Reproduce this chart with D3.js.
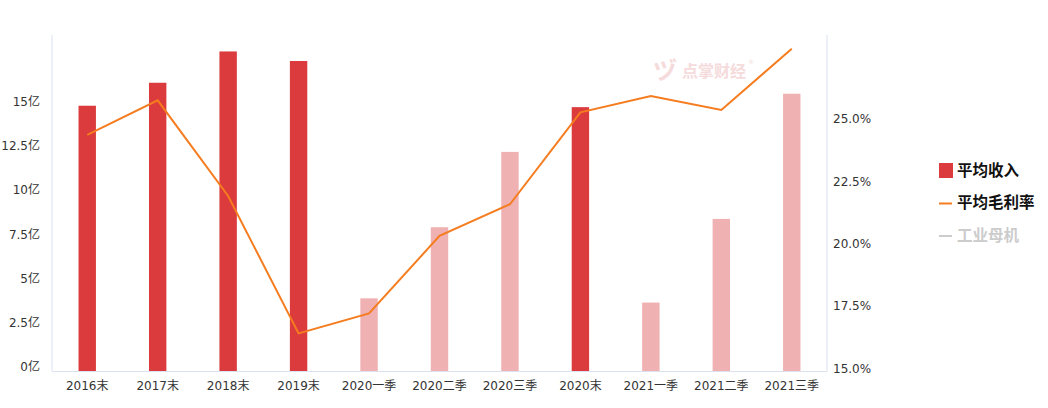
<!DOCTYPE html>
<html>
<head>
<meta charset="utf-8">
<script src="https://cdn.jsdelivr.net/npm/d3@7"></script>
<style>
    body { margin: 0; background: #fff; }
    text { font-family: "DejaVu Sans", "Noto Sans CJK SC", sans-serif; }
</style>
</head>
<body>
<script>
// data
var categories = ["2016末", "2017末", "2018末", "2019末", "2020一季", "2020二季", "2020三季", "2020末", "2021一季", "2021二季", "2021三季"];
var income = [15.0, 16.3, 18.07, 17.53, 4.11, 8.13, 12.39, 14.92, 3.87, 8.6, 15.68];   // 亿
var isYearEnd = [true, true, true, true, false, false, false, true, false, false, false];
var margin = [24.47, 25.86, 22.02, 16.51, 17.31, 20.42, 21.69, 25.38, 26.03, 25.47, 27.93]; // %
var leftTicks = [0, 2.5, 5, 7.5, 10, 12.5, 15];
var rightTicks = [15, 17.5, 20, 22.5, 25];
var legendItems = ["平均收入", "平均毛利率", "工业母机"];

var W = 1048, H = 408;
var plot = { left: 52, right: 827, top: 35, bottom: 371 };

var svg = d3.select("body").append("svg")
    .attr("width", W)
    .attr("height", H);

var x = d3.scaleBand()
    .domain(categories)
    .range([plot.left, plot.right]);

var yL = d3.scaleLinear()
    .domain([0, 19])
    .range([plot.bottom, plot.top]);

var yR = d3.scaleLinear()
    .domain([15, 28.48])
    .range([plot.bottom, plot.top]);

var axisColor = "#dbe1ee";

// watermark
var wm = svg.append("g").attr("opacity", 0.6);
wm.append("text")
    .attr("x", 653)
    .attr("y", 79)
    .attr("font-size", 24)
    .attr("font-weight", "bold")
    .attr("fill", "#f0c4c6")
    .text("ヅ");
wm.append("text")
    .attr("x", 682)
    .attr("y", 77)
    .attr("font-size", 16)
    .attr("font-weight", "bold")
    .attr("fill", "#f0c4c6")
    .style("font-family", "'Noto Sans CJK SC'")
    .text("点掌财经");
wm.append("text")
    .attr("x", 748)
    .attr("y", 64)
    .attr("font-size", 6)
    .attr("fill", "#f0c4c6")
    .text("®");

// bars
var barW = 17.4;
svg.append("g").selectAll("rect")
    .data(income)
    .enter().append("rect")
    .attr("x", function(d, i) { return x(categories[i]) + x.bandwidth() / 2 - barW / 2; })
    .attr("y", function(d) { return yL(d); })
    .attr("width", barW)
    .attr("height", function(d) { return yL(0) - yL(d); })
    .attr("fill", function(d, i) { return isYearEnd[i] ? "#db3b3c" : "#f0b1b2"; });

// axes lines
svg.append("line")
    .attr("x1", plot.left).attr("x2", plot.left)
    .attr("y1", plot.top).attr("y2", plot.bottom)
    .attr("stroke", axisColor);
svg.append("line")
    .attr("x1", plot.right).attr("x2", plot.right)
    .attr("y1", plot.top).attr("y2", plot.bottom)
    .attr("stroke", axisColor);
svg.append("line")
    .attr("x1", plot.left).attr("x2", plot.right)
    .attr("y1", plot.bottom + 0.5).attr("y2", plot.bottom + 0.5)
    .attr("stroke", axisColor);

// left tick labels
svg.append("g").selectAll("text")
    .data(leftTicks)
    .enter().append("text")
    .attr("x", 40)
    .attr("y", function(d) { return yL(d) - 4; })
    .attr("dy", "0.35em")
    .attr("text-anchor", "end")
    .attr("font-size", 12)
    .attr("fill", "#333")
    .text(function(d) { return d + "亿"; });

// right tick labels
svg.append("g").selectAll("text")
    .data(rightTicks)
    .enter().append("text")
    .attr("x", 833)
    .attr("y", function(d) { return yR(d) - 2.5; })
    .attr("dy", "0.35em")
    .attr("font-size", 12)
    .attr("fill", "#333")
    .text(function(d) { return d.toFixed(1) + "%"; });

// x labels
svg.append("g").selectAll("text")
    .data(categories)
    .enter().append("text")
    .attr("x", function(d) { return x(d) + x.bandwidth() / 2; })
    .attr("y", 386)
    .attr("dy", "0.35em")
    .attr("text-anchor", "middle")
    .attr("font-size", 12)
    .attr("fill", "#333")
    .text(function(d) { return d; });

// margin line
var line = d3.line()
    .x(function(d, i) { return x(categories[i]) + x.bandwidth() / 2; })
    .y(function(d) { return yR(d); });

svg.append("path")
    .datum(margin)
    .attr("d", line)
    .attr("fill", "none")
    .attr("stroke", "#f57c1f")
    .attr("stroke-width", 2);

// legend
var lg = svg.append("g").attr("transform", "translate(939,0)");
lg.append("rect")
    .attr("x", 0).attr("y", 163)
    .attr("width", 14).attr("height", 15)
    .attr("fill", "#db3b3c");
lg.append("line")
    .attr("x1", 0).attr("x2", 13)
    .attr("y1", 203.5).attr("y2", 203.5)
    .attr("stroke", "#f57c1f").attr("stroke-width", 2);
lg.append("line")
    .attr("x1", 0).attr("x2", 13)
    .attr("y1", 236).attr("y2", 236)
    .attr("stroke", "#cccccc").attr("stroke-width", 2);
lg.selectAll("text.lg")
    .data(legendItems)
    .enter().append("text")
    .attr("class", "lg")
    .attr("x", 18)
    .attr("y", function(d, i) { return [171, 203, 236][i]; })
    .attr("dy", "0.35em")
    .attr("font-size", 15.5)
    .attr("font-weight", "bold")
    .attr("fill", function(d, i) { return i < 2 ? "#111" : "#cccccc"; })
    .style("font-family", "'Noto Sans CJK SC'")
    .text(function(d) { return d; });
</script>
</body>
</html>
